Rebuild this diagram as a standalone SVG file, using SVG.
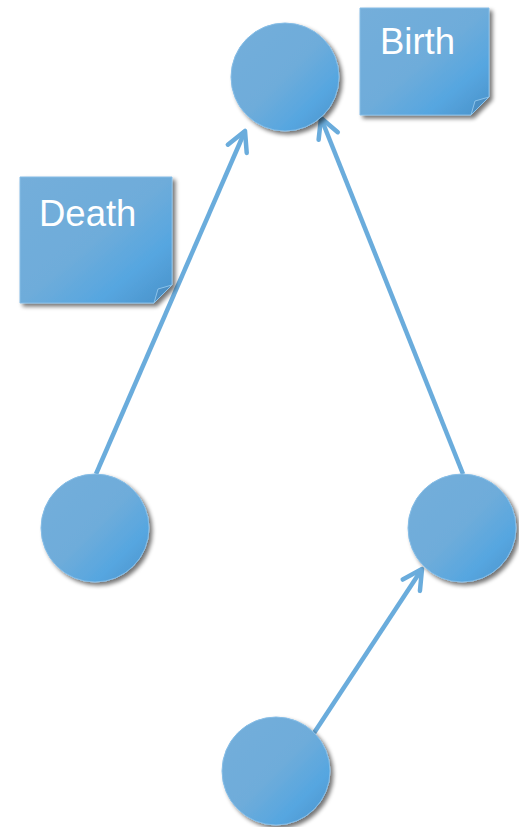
<svg xmlns="http://www.w3.org/2000/svg" width="519" height="827" viewBox="0 0 519 827">
<defs>
<linearGradient id="g" x1="0" y1="0" x2="1" y2="1">
<stop offset="0" stop-color="#74aeda"/>
<stop offset="0.5" stop-color="#6eacda"/>
<stop offset="0.75" stop-color="#56a6e0"/>
<stop offset="1" stop-color="#4a91c8"/>
</linearGradient>
<filter id="sh" x="-20%" y="-20%" width="140%" height="140%">
<feGaussianBlur in="SourceAlpha" stdDeviation="2"/>
<feOffset dx="3" dy="3" result="b"/>
<feComponentTransfer><feFuncA type="linear" slope="0.55"/></feComponentTransfer>
<feMerge><feMergeNode/><feMergeNode in="SourceGraphic"/></feMerge>
</filter>
<marker id="ah" markerUnits="userSpaceOnUse" viewBox="-24 -14 28 28" refX="0" refY="0" markerWidth="28" markerHeight="28" orient="auto">
<path d="M-19.4,-10.3 L0,0 L-19.4,10.3" fill="none" stroke="#6aacdc" stroke-width="4.5" stroke-linecap="round" stroke-linejoin="round"/>
</marker>
</defs>
<style>
.node{fill:url(#g);stroke:#86bde6;stroke-width:1;filter:url(#sh)}
.fold{fill:#4b8fc4;stroke:#8cc3ea;stroke-width:1}
.lbl{font-family:"Liberation Sans",Arial,sans-serif;font-size:36.5px;fill:#ffffff}
.edge{fill:none;stroke:#6aacdc;stroke-width:4.5;marker-end:url(#ah)}
</style>
<g id="connectors">
<line class="edge" x1="96" y1="474" x2="245" y2="131"/>
<line class="edge" x1="463" y1="474" x2="321" y2="118"/>
<line class="edge" x1="314" y1="733" x2="422" y2="569"/>
</g>
<g id="n-top"><circle class="node" cx="285" cy="77" r="54"/></g>
<g id="n-left"><circle class="node" cx="95" cy="528" r="54"/></g>
<g id="n-right"><circle class="node" cx="462" cy="528" r="54"/></g>
<g id="n-bottom"><circle class="node" cx="276" cy="771" r="54"/></g>
<g id="note-birth">
<path class="node" d="M360,8 H489 V97 L471,115 H360 Z" stroke="none"/>
<path class="fold" d="M489,97 L471,115 L475,101 Z"/>
<text class="lbl" x="380" y="54">Birth</text>
</g>
<g id="note-death">
<path class="node" d="M20,177 H172 V285 L154,303 H20 Z" stroke="none"/>
<path class="fold" d="M172,285 L154,303 L158,289 Z"/>
<text class="lbl" x="39" y="226">Death</text>
</g>
</svg>
